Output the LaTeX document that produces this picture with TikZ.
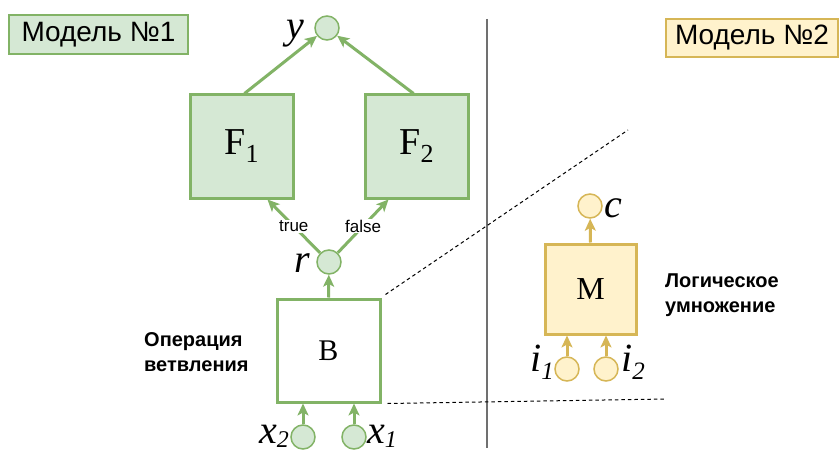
\documentclass[tikz,border=0pt]{standalone}
\usepackage{fontspec}
\setmainfont{Liberation Serif}
\setsansfont{Liberation Sans}
\usetikzlibrary{arrows.meta}
\definecolor{gfill}{HTML}{D5E8D4}
\definecolor{gline}{HTML}{82B366}
\definecolor{yfill}{HTML}{FFF2CC}
\definecolor{yline}{HTML}{D6B656}
\definecolor{sepcol}{HTML}{707070}
\newcommand\lsub[1]{\raisebox{-8pt}{\fontsize{25}{25}\selectfont\itshape #1}}
\newcommand\xsub[1]{\raisebox{-4pt}{\fontsize{24}{24}\selectfont\itshape #1}}
\newcommand\bsub[1]{\raisebox{-8pt}{\fontsize{26}{26}\selectfont #1}}
\begin{document}
\begin{tikzpicture}[x=1pt,y=-1pt,
  title/.style={draw, line width=1.5pt, minimum height=39pt, inner sep=0pt,
    font=\sffamily\fontsize{28}{32}\selectfont},
  gbox/.style={draw=gline, fill=gfill, line width=3pt, minimum width=103pt, minimum height=103pt, inner sep=0pt},
  gcirc/.style={circle, draw=gline, fill=gfill, line width=1.5pt, minimum size=24pt, inner sep=0pt},
  ycirc/.style={circle, draw=yline, fill=yfill, line width=1.5pt, minimum size=24pt, inner sep=0pt},
  garrow/.style={draw=gline, line width=3pt, -{Stealth[length=12pt,width=11pt,inset=3pt]}},
  yarrow/.style={draw=yline, line width=3pt, -{Stealth[length=12pt,width=11pt,inset=3pt]}},
  var/.style={inner sep=0pt, font=\fontsize{40}{40}\selectfont\itshape},
  note/.style={inner sep=0pt, align=left, font=\sffamily\bfseries\fontsize{20}{25}\selectfont},
  edgelbl/.style={fill=white, inner sep=1pt, font=\sffamily\fontsize{17}{17}\selectfont},
  dotline/.style={draw=black, line width=1pt, dash pattern=on 3.5pt off 3pt}
]
\useasboundingbox[fill=white] (0,0) rectangle (839,452);

% titles
\node[title, draw=gline, fill=gfill, minimum width=179pt] (m1) at (98.5,34.5) {Модель №1};
\node[title, draw=yline, fill=yfill, minimum width=172pt, minimum height=38pt] (m2) at (752,38) {Модель №2};

% separator
\coordinate (s1) at (487,19);
\coordinate (s2) at (487,448);
\draw[sepcol, line width=2.5pt] (s1) -- (s2);

% model 1
\node[gcirc] (y) at (327,28) {};
\node[gbox] (F1) at (241.5,146.5) {\fontsize{38}{38}\selectfont F\bsub{1}};
\node[gbox] (F2) at (416.5,146.5) {\fontsize{38}{38}\selectfont F\bsub{2}};
\node[gcirc] (r) at (329,262) {};
\node[gbox, fill=white] (B) at (328.5,350.5) {\fontsize{30}{30}\selectfont B};
\node[gcirc] (x2) at (303,437) {};
\node[gcirc] (x1) at (354,437) {};

\draw[garrow] ([xshift=3pt]F1.north) -- (y);
\draw[garrow] ([xshift=-3pt]F2.north) -- (y);
\draw[garrow] (r) -- node[edgelbl]{true} ([xshift=26pt]F1.south);
\draw[garrow] (r) -- node[edgelbl]{false} ([xshift=-28pt]F2.south);
\draw[garrow] (B.north) -- (r);
\draw[garrow] (x2) -- (x2 |- B.south);
\draw[garrow] (x1) -- (x1 |- B.south);

\node[var, anchor=base east] (ly) at (304,39) {y};
\node[var, anchor=base east] (lr) at (310,272) {r};
\node[var, anchor=base east] (lx2) at (289,443) {x\xsub{2}};
\node[var, anchor=base west] (lx1) at (367,443) {x\xsub{1}};

\node[note, anchor=west] (op) at (144,352) {Операция\\ветвления};

% model 2
\node[ycirc] (c) at (590,206) {};
\node[draw=yline, fill=yfill, line width=3pt, minimum width=91pt, minimum height=90pt, inner sep=0pt] (M) at (590.5,289) {\fontsize{32}{32}\selectfont M};
\node[ycirc] (i1) at (567,369) {};
\node[ycirc] (i2) at (606,369) {};
\draw[yarrow] (M.north) -- (c);
\draw[yarrow] (i1) -- (i1 |- M.south);
\draw[yarrow] (i2) -- (i2 |- M.south);

\node[var, anchor=base west] (lc) at (604,217) {c};
\node[var, anchor=base east] (li1) at (554,371) {i\lsub{1}};
\node[var, anchor=base west] (li2) at (621,371) {i\lsub{2}};

\node[note, anchor=west] (lm) at (665,295) {Логическое\\умножение};

% zoom lines
\coordinate (d1) at (628,130);
\coordinate (d2) at (666,399);
\draw[dotline] ([xshift=4pt,yshift=3pt]B.north east) -- (d1);
\draw[dotline] ([xshift=6pt]B.south east) -- (d2);
\end{tikzpicture}
\end{document}
